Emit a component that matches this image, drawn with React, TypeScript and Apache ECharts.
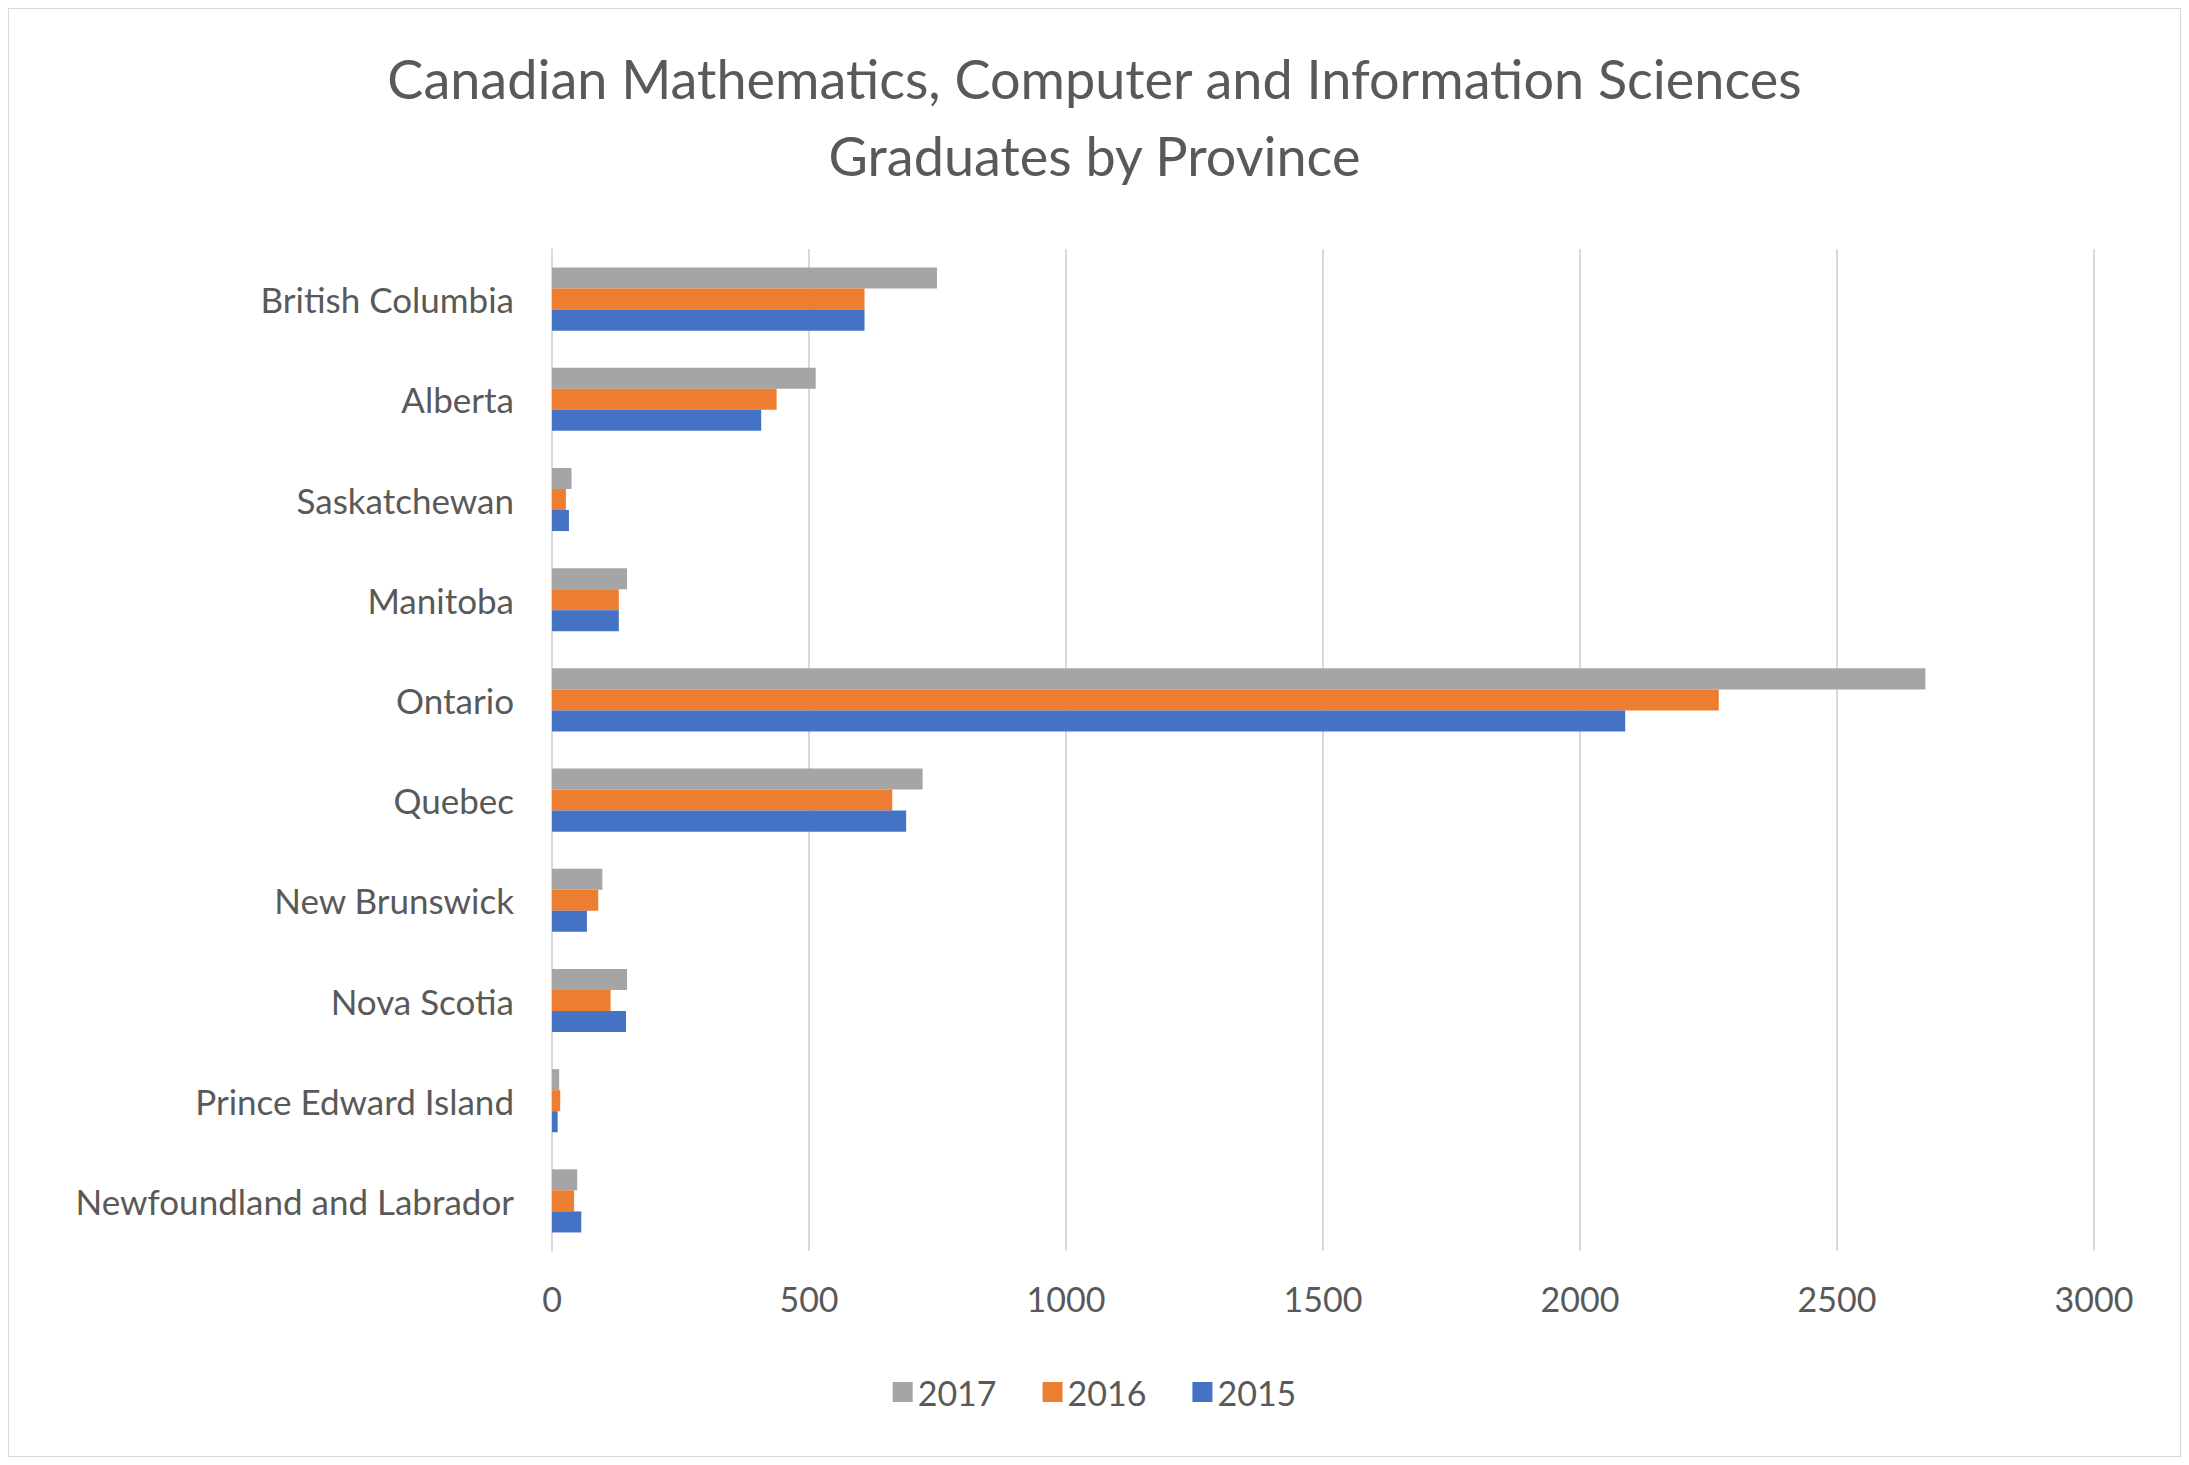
import * as echarts from 'echarts'
import { useEffect, useRef } from 'react'

// bottom-to-top order on the axis
const provinces = [
  'Newfoundland and Labrador',
  'Prince Edward Island',
  'Nova Scotia',
  'New Brunswick',
  'Quebec',
  'Ontario',
  'Manitoba',
  'Saskatchewan',
  'Alberta',
  'British Columbia'
]
const grads2015 = [57, 11, 144, 68, 689, 2088, 130, 33, 407, 608]
const grads2016 = [43, 16, 114, 90, 662, 2270, 130, 27, 437, 608]
const grads2017 = [49, 14, 146, 98, 721, 2672, 146, 38, 513, 749]

const font = 'Lato, "Open Sans", sans-serif'

function App() {
  const ref = useRef<HTMLDivElement>(null)

  useEffect(() => {
    if (!ref.current) return
    const chart = echarts.init(ref.current, null, { renderer: 'svg' })
    chart.setOption({
      animation: false,
      textStyle: { fontFamily: font, color: '#595959' },
      title: {
        text: 'Canadian Mathematics, Computer and Information Sciences\nGraduates by Province',
        left: 'center',
        top: 26,
        textStyle: { fontSize: 54, fontWeight: 'normal', color: '#595959', lineHeight: 77, fontFamily: font }
      },
      legend: {
        data: ['2017', '2016', '2015'],
        bottom: 42,
        left: 'center',
        icon: 'rect',
        itemWidth: 20,
        itemHeight: 20,
        itemGap: 46,
        textStyle: { fontSize: 34, color: '#595959', fontFamily: font }
      },
      grid: { left: 543, right: 86, top: 240, bottom: 205 },
      xAxis: {
        type: 'value',
        min: 0,
        max: 3000,
        interval: 500,
        axisLine: { show: false },
        axisTick: { show: false },
        axisLabel: { fontSize: 34, color: '#595959', margin: 30, formatter: (v: number) => String(v) },
        splitLine: { lineStyle: { color: '#D9D9D9', width: 2 } }
      },
      yAxis: {
        type: 'category',
        data: provinces,
        axisLine: { lineStyle: { color: '#D9D9D9', width: 2 } },
        axisTick: { show: false },
        axisLabel: { fontSize: 35, color: '#595959', margin: 38 }
      },
      series: [
        { name: '2017', type: 'bar', data: grads2017, itemStyle: { color: '#A5A5A5' }, barGap: '0%', barCategoryGap: '37%' },
        { name: '2016', type: 'bar', data: grads2016, itemStyle: { color: '#ED7D31' }, barGap: '0%', barCategoryGap: '37%' },
        { name: '2015', type: 'bar', data: grads2015, itemStyle: { color: '#4472C4' }, barGap: '0%', barCategoryGap: '37%' }
      ]
    })
    return () => chart.dispose()
  }, [])

  return (
    <div
      ref={ref}
      style={{ width: 2171, height: 1447, border: '1px solid #D9D9D9', background: '#fff' }}
    />
  )
}

export default App
